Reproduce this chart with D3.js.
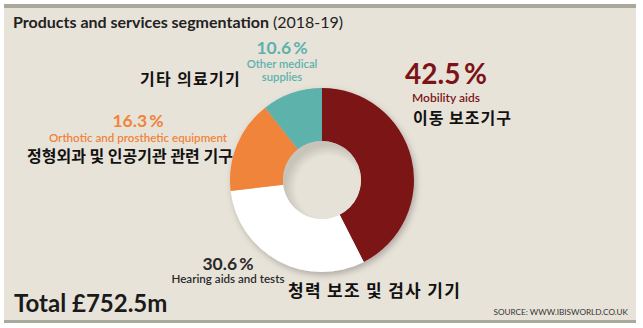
<!DOCTYPE html>
<html>
<head>
<meta charset="utf-8">
<script src="https://cdn.jsdelivr.net/npm/d3@7"></script>
<style>
  html, body { margin: 0; padding: 0; background: #ffffff; }
  svg { display: block; }
</style>
</head>
<body>
<svg id="chart" width="643" height="328"></svg>
<script>
// ---- data ----
const categories = ["Mobility aids", "Hearing aids and tests", "Orthotic and prosthetic equipment", "Other medical supplies"];
const koreanLabels = ["이동 보조기구", "청력 보조 및 검사 기기", "정형외과 및 인공기관 관련 기구", "기타 의료기기"];
const values = [42.5, 30.6, 16.3, 10.6];
const colors = ["#7c1417", "#ffffff", "#f0843b", "#5db2ac"];
const labelColors = ["#7c1417", "#2a2a2a", "#f0843b", "#5db2ac"];
const title = "Products and services segmentation";
const period = "(2018-19)";
const totalText = "Total £752.5m";
const sourceText = "SOURCE: WWW.IBISWORLD.CO.UK";

// ---- layout (positions / styles) ----
const W = 643, H = 328;
const cx = 322, cy = 180, rOuter = 92, rInner = 39;
const latin = "Lato, 'Open Sans', sans-serif";
const kfont = "'Noto Sans CJK KR', sans-serif";
// per slice: percentage position/size, english lines (split of category name), korean position
const labelLayout = [
  { px: 446, py: 84, pSize: 28, enLines: ["Mobility aids"], enX: 446, enY: 102, enSize: 12, lh: 12, ko: [413, 124], koSize: 16, koSp: 1 },
  { px: 228, py: 270, pSize: 17.5, enLines: ["Hearing aids and tests"], enX: 228, enY: 283, enSize: 11.6, lh: 12, ko: [288, 297], koSize: 17, koSp: 1.3 },
  { px: 138, py: 127, pSize: 17.5, enLines: ["Orthotic and prosthetic equipment"], enX: 138, enY: 142, enSize: 11.6, lh: 12, ko: [27, 162], koSize: 16, koSp: 0 },
  { px: 282, py: 54, pSize: 17.5, enLines: ["Other medical", "supplies"], enX: 282, enY: 68, enSize: 11.3, lh: 13, ko: [140, 85], koSize: 16, koSp: 1.3 }
];

const svg = d3.select("#chart");
const defs = svg.append("defs");
const sh = defs.append("filter").attr("id", "shadow").attr("x", "-20%").attr("y", "-20%").attr("width", "150%").attr("height", "150%");
sh.append("feDropShadow").attr("dx", 2).attr("dy", 3).attr("stdDeviation", 3).attr("flood-color", "#000").attr("flood-opacity", 0.25);
const holeGrad = defs.append("radialGradient").attr("id", "hole").attr("cx", "58%").attr("cy", "60%").attr("r", "55%");
holeGrad.append("stop").attr("offset", "0.75").attr("stop-color", "#e7e2d8");
holeGrad.append("stop").attr("offset", "1").attr("stop-color", "#c9c4ba");

// panel
svg.append("rect").attr("x", 4).attr("y", 4).attr("width", 632).attr("height", 318).attr("fill", "#e8e3d9");
svg.append("rect").attr("x", 4).attr("y", 4).attr("width", 632).attr("height", 4).attr("fill", "#a9aa9b");
svg.append("rect").attr("x", 4).attr("y", 320).attr("width", 632).attr("height", 3).attr("fill", "#a9aa9b");

// title
const t = svg.append("text").attr("x", 13).attr("y", 28).attr("font-family", latin).attr("font-size", 16).attr("fill", "#222");
t.append("tspan").attr("font-weight", 700).text(title);
t.append("tspan").attr("font-weight", 400).attr("dx", 4).text(period);

// donut
const pie = d3.pie().sort(null).value(d => d).startAngle(0).endAngle(2 * Math.PI);
const arc = d3.arc().innerRadius(rInner).outerRadius(rOuter);
const g = svg.append("g").attr("transform", `translate(${cx},${cy})`);
const arcsG = g.append("g").attr("filter", "url(#shadow)");
arcsG.selectAll("path").data(pie(values)).join("path")
  .attr("d", arc)
  .attr("fill", (d, i) => colors[i]);
g.append("circle").attr("r", rInner).attr("fill", "url(#hole)");

// labels
values.forEach((v, i) => {
  const L = labelLayout[i];
  const txt = svg.append("text").attr("text-anchor", "middle").attr("font-family", latin).attr("fill", labelColors[i]);
  txt.append("tspan").attr("x", L.px).attr("y", L.py)
    .attr("font-weight", 700).attr("font-size", L.pSize)
    .text(d3.format(".1f")(v) + "\u2009%");
  L.enLines.forEach((line, j) => {
    txt.append("tspan").attr("x", L.enX).attr("y", L.enY + j * L.lh)
      .attr("font-weight", 600).attr("font-size", L.enSize).text(line);
  });
  svg.append("text").attr("x", L.ko[0]).attr("y", L.ko[1]).attr("text-anchor", "start")
    .attr("font-family", kfont).attr("font-weight", 700).attr("font-size", L.koSize)
    .attr("letter-spacing", L.koSp)
    .attr("fill", "#111").text(koreanLabels[i]);
});

// total & source
svg.append("text").attr("x", 14).attr("y", 312).attr("font-family", latin).attr("font-weight", 700)
  .attr("font-size", 24).attr("fill", "#1a1a1a").text(totalText);
svg.append("text").attr("x", 628).attr("y", 315).attr("text-anchor", "end").attr("font-family", latin)
  .attr("font-size", 8.2).attr("fill", "#333").text(sourceText);
</script>
</body>
</html>
